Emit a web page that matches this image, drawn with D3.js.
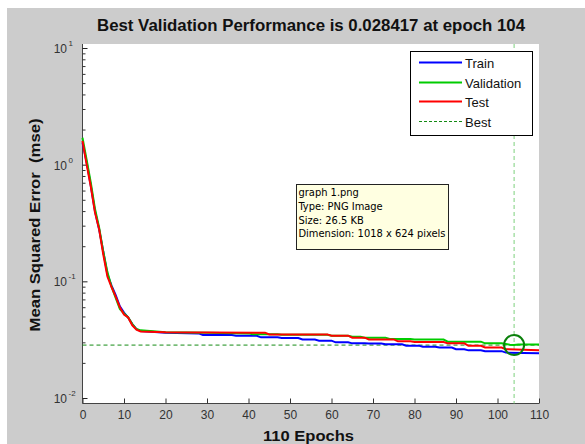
<!DOCTYPE html>
<html>
<head>
<meta charset="utf-8">
<script src="https://cdn.jsdelivr.net/npm/d3@7"></script>
<style>
  body { margin: 0; background: #fff; }
  svg { display: block; font-family: "Liberation Sans", Arial, sans-serif; }
</style>
</head>
<body>
<svg width="585" height="444"></svg>
<script>
// performance per epoch (vertices where the curve changes)
const trainEpochs = [0, 1, 2, 3, 4, 5, 6, 7, 8, 9, 10, 11, 12, 13, 14, 20, 28, 29, 36, 37, 42, 43, 47, 48, 52, 53, 56, 57, 60, 61, 64, 65, 68, 69, 72, 73, 77, 78, 81, 82, 85, 86, 89, 90, 92, 93, 96, 97, 101, 102, 110];
const trainPerf = [1.55, 1.05, 0.66, 0.40, 0.28, 0.18, 0.115, 0.092, 0.076, 0.061, 0.054, 0.049, 0.043, 0.039, 0.0375, 0.0362, 0.0358, 0.0347, 0.0347, 0.0342, 0.0342, 0.0331, 0.0331, 0.0327, 0.0327, 0.0317, 0.0317, 0.031, 0.031, 0.030, 0.030, 0.0294, 0.0294, 0.0293, 0.0293, 0.0289, 0.0289, 0.0281, 0.0281, 0.0275, 0.0275, 0.0271, 0.0271, 0.0262, 0.0262, 0.0256, 0.0256, 0.0252, 0.0252, 0.0245, 0.0242];

const valEpochs = [0, 1, 2, 3, 4, 5, 6, 7, 8, 9, 10, 11, 12, 13, 14, 20, 30, 40, 41, 47, 48, 59, 60, 64, 65, 67, 68, 73, 74, 79, 80, 87, 88, 96, 97, 101, 102, 103, 104, 105, 110];
const valPerf = [1.7, 1.1, 0.70, 0.42, 0.29, 0.18, 0.12, 0.090, 0.072, 0.058, 0.053, 0.049, 0.043, 0.039, 0.038, 0.0366, 0.0362, 0.0358, 0.0352, 0.0352, 0.0349, 0.0349, 0.0342, 0.0342, 0.0335, 0.0335, 0.0329, 0.0329, 0.032, 0.032, 0.0317, 0.0317, 0.0304, 0.0304, 0.0294, 0.0294, 0.029, 0.0286, 0.028417, 0.0288, 0.0288];

const testEpochs = [0, 1, 2, 3, 4, 5, 6, 7, 8, 9, 10, 11, 12, 13, 14, 20, 44, 45, 59, 60, 64, 65, 68, 69, 75, 76, 79, 80, 87, 88, 92, 93, 96, 97, 101, 102, 110];
const testPerf = [1.6, 1.0, 0.65, 0.39, 0.28, 0.17, 0.11, 0.089, 0.074, 0.060, 0.052, 0.049, 0.042, 0.0385, 0.0372, 0.0366, 0.0363, 0.0351, 0.0351, 0.0342, 0.0342, 0.0329, 0.0329, 0.0318, 0.0318, 0.0306, 0.0306, 0.0302, 0.0302, 0.0294, 0.0294, 0.028, 0.028, 0.0271, 0.0271, 0.0262, 0.0256];

const bestEpoch = 104;
const bestPerf = 0.028417;
const xTicks = [0, 10, 20, 30, 40, 50, 60, 70, 80, 90, 100, 110];
const yMajor = [0.01, 0.1, 1, 10];
const yExp = ['-2', '-1', '0', '1'];
const legendNames = ['Train', 'Validation', 'Test', 'Best'];
const tipLines = ['graph 1.png', 'Type: PNG Image', 'Size: 26.5 KB', 'Dimension: 1018 x 624 pixels'];

const svg = d3.select('svg');
const frame = { left: 82.5, right: 539, top: 44, bottom: 403.5 };

const x = d3.scaleLinear().domain([0, 110]).range([frame.left, frame.right]);
const y = d3.scaleLog().domain([0.01, 10]).range([398, 48]);

// figure background
svg.append('rect').attr('x', 7).attr('y', 8).attr('width', 585).attr('height', 444).attr('fill', '#cccccc');
svg.append('rect')
  .attr('x', frame.left).attr('y', frame.top)
  .attr('width', frame.right - frame.left).attr('height', frame.bottom - frame.top)
  .attr('fill', '#fff');

svg.append('text')
  .attr('x', 311).attr('y', 31)
  .attr('text-anchor', 'middle')
  .attr('font-size', 16).attr('font-weight', 'bold')
  .attr('textLength', 428).attr('lengthAdjust', 'spacingAndGlyphs')
  .attr('fill', '#111')
  .text('Best Validation Performance is 0.028417 at epoch 104');

// axes, ticks pointing inward like matlab
const xAxis = svg.append('g')
  .attr('transform', `translate(0, ${frame.bottom})`)
  .call(d3.axisBottom(x).tickValues(xTicks).tickSize(-5).tickPadding(7).tickFormat(d3.format('d')));
xAxis.select('.domain').attr('d', `M${frame.left},0H${frame.right}`).attr('stroke', '#444');
xAxis.selectAll('.tick line').attr('stroke', '#333');
xAxis.selectAll('.tick text').attr('font-size', 12).attr('fill', '#333').attr('font-family', '"Liberation Sans", Arial, sans-serif');

const yMinor = [];
[0.01, 0.1, 1].forEach(d => { for (let k = 2; k <= 9; k++) yMinor.push(d * k); });

const yAxis = svg.append('g')
  .attr('transform', `translate(${frame.left}, 0)`)
  .call(d3.axisLeft(y).tickValues(yMajor).tickSize(-5).tickFormat(''));
yAxis.select('.domain').attr('d', `M0,${frame.top}V${frame.bottom}`).attr('stroke', '#444');
yAxis.selectAll('.tick line').attr('stroke', '#222');

const yMinorAxis = svg.append('g')
  .attr('transform', `translate(${frame.left}, 0)`)
  .call(d3.axisLeft(y).tickValues(yMinor).tickSize(-3).tickFormat(''));
yMinorAxis.select('.domain').remove();
yMinorAxis.selectAll('.tick line').attr('stroke', '#333');

const yLab = svg.append('g').selectAll('text')
  .data(yMajor)
  .enter()
  .append('text')
  .attr('x', 67)
  .attr('y', d => y(d) + 5)
  .attr('text-anchor', 'end')
  .attr('font-size', 12)
  .attr('fill', '#333')
  .text('10');
svg.append('g').selectAll('text')
  .data(yMajor)
  .enter()
  .append('text')
  .attr('x', 68.5)
  .attr('y', d => y(d) - 2)
  .attr('font-size', 8)
  .attr('fill', '#333')
  .text((d, i) => yExp[i]);

// best markers
svg.append('line')
  .attr('x1', x(bestEpoch)).attr('x2', x(bestEpoch))
  .attr('y1', frame.top).attr('y2', frame.bottom)
  .attr('stroke', '#7cd07c').attr('stroke-width', 1).attr('stroke-dasharray', '4,3');
svg.append('line')
  .attr('x1', frame.left).attr('x2', frame.right)
  .attr('y1', y(bestPerf)).attr('y2', y(bestPerf))
  .attr('stroke', '#138a13').attr('stroke-width', 1).attr('stroke-dasharray', '4,3');

const line = d3.line().x(d => x(d[0])).y(d => y(d[1]));
const series = [
  { epochs: trainEpochs, perf: trainPerf, color: '#0000ff' },
  { epochs: valEpochs, perf: valPerf, color: '#00cc00' },
  { epochs: testEpochs, perf: testPerf, color: '#ff0000' }
];
series.forEach(s => {
  svg.append('path')
    .datum(s.epochs.map((e, i) => [e, s.perf[i]]))
    .attr('d', line)
    .attr('fill', 'none')
    .attr('stroke', s.color)
    .attr('stroke-width', 2);
});

svg.append('circle')
  .attr('cx', x(bestEpoch)).attr('cy', y(bestPerf)).attr('r', 10)
  .attr('fill', 'none').attr('stroke', '#0a800a').attr('stroke-width', 2);

// axis labels
svg.append('text')
  .attr('x', 308.5).attr('y', 441)
  .attr('text-anchor', 'middle')
  .attr('font-size', 15).attr('font-weight', 'bold')
  .attr('textLength', 91).attr('lengthAdjust', 'spacingAndGlyphs')
  .attr('fill', '#111')
  .text('110 Epochs');
svg.append('text')
  .attr('transform', 'translate(40, 225) rotate(-90)')
  .attr('text-anchor', 'middle')
  .attr('font-size', 15).attr('font-weight', 'bold')
  .attr('textLength', 213).attr('lengthAdjust', 'spacingAndGlyphs')
  .attr('fill', '#111')
  .style('white-space', 'pre')
  .text('Mean Squared Error  (mse)');

// legend
const legend = svg.append('g');
legend.append('rect')
  .attr('x', 410.5).attr('y', 51.5).attr('width', 122).attr('height', 84)
  .attr('fill', '#fff').attr('stroke', '#000').attr('stroke-width', 1);
const legendColors = ['#0000ff', '#00cc00', '#ff0000', '#138a13'];
const legendY = [62.5, 82.5, 101.5, 121.5];
legendNames.forEach((name, i) => {
  legend.append('line')
    .attr('x1', 419).attr('x2', 462)
    .attr('y1', legendY[i]).attr('y2', legendY[i])
    .attr('stroke', legendColors[i])
    .attr('stroke-width', i < 3 ? 2 : 1)
    .attr('stroke-dasharray', i < 3 ? null : '3,2');
  legend.append('text')
    .attr('x', 465).attr('y', legendY[i] + 5)
    .attr('font-size', 13).attr('fill', '#111')
    .text(name);
});

// file tooltip pasted over the chart
const tip = svg.append('g');
tip.append('rect')
  .attr('x', 296.5).attr('y', 184.5).attr('width', 152).attr('height', 65)
  .attr('fill', '#ffffe1').attr('stroke', '#222').attr('stroke-width', 1);
tip.selectAll('text')
  .data(tipLines)
  .enter()
  .append('text')
  .attr('x', 298.5)
  .attr('y', (d, i) => 196 + i * 13.8)
  .attr('font-size', 11)
  .attr('font-family', '"DejaVu Sans Condensed", "Liberation Sans", sans-serif')
  .attr('fill', '#000')
  .text(d => d);
</script>
</body>
</html>
